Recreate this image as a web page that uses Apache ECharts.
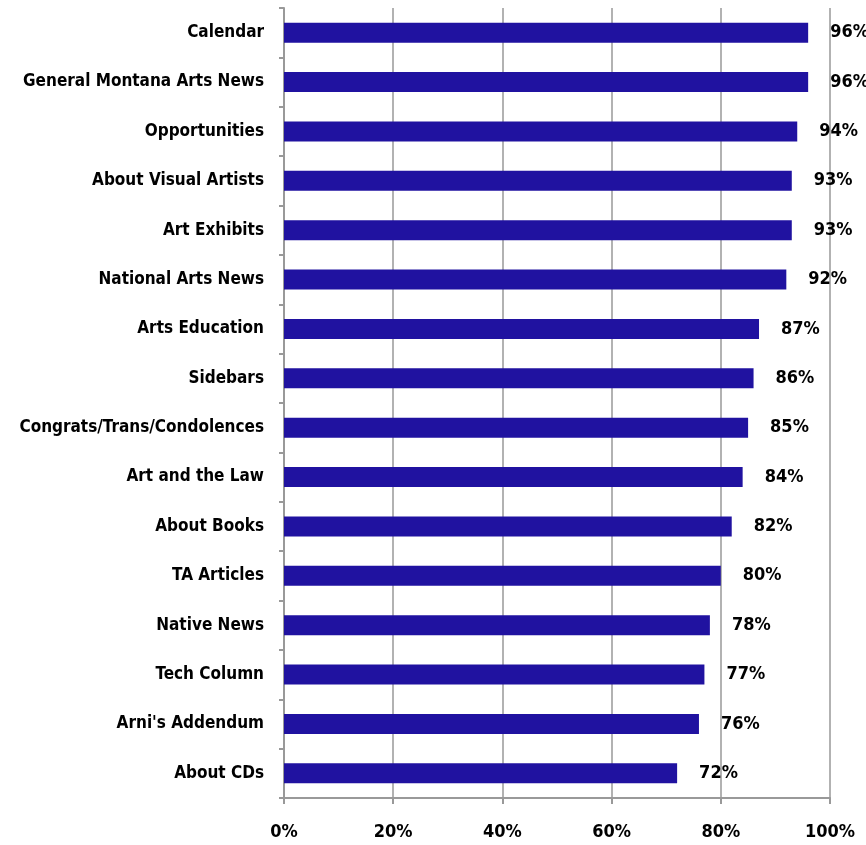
<!DOCTYPE html>
<html>
<head>
<meta charset="utf-8">
<script src="https://cdn.jsdelivr.net/npm/echarts@6/dist/echarts.min.js"></script>
<style>
  html, body { margin: 0; padding: 0; background: #fff; }
  #main { width: 866px; height: 845px; }
</style>
</head>
<body>
<div id="main"></div>
<script>
// categories top to bottom
var categories = [
  "Calendar", "General Montana Arts News", "Opportunities", "About Visual Artists",
  "Art Exhibits", "National Arts News", "Arts Education", "Sidebars",
  "Congrats/Trans/Condolences", "Art and the Law", "About Books", "TA Articles",
  "Native News", "Tech Column", "Arni's Addendum", "About CDs"
];
var values = [96, 96, 94, 93, 93, 92, 87, 86, 85, 84, 82, 80, 78, 77, 76, 72];
var xTicks = [0, 20, 40, 60, 80, 100];

var font = '"DejaVu Sans Condensed", "Liberation Sans", sans-serif';

var myChart = echarts.init(document.getElementById("main"));

var option = {
  backgroundColor: "#fff",
  animation: false,
  grid: { left: 284, right: 36, top: 8, bottom: 47, containLabel: false, outerBoundsMode: "none" },
  xAxis: {
    type: "value",
    min: xTicks[0],
    max: xTicks[xTicks.length - 1],
    interval: xTicks[1] - xTicks[0],
    axisLine: { show: true, lineStyle: { color: "#999", width: 2 } },
    axisTick: { show: true, length: 6, lineStyle: { color: "#999", width: 2 } },
    splitLine: { show: true, lineStyle: { color: "#999", width: 1.5 } },
    axisLabel: {
      margin: 25,
      formatter: "{value}%",
      color: "#000",
      fontFamily: font,
      fontWeight: "bold",
      fontSize: 18
    }
  },
  yAxis: {
    type: "category",
    inverse: true,
    data: categories,
    axisLine: { show: true, lineStyle: { color: "#999", width: 2 } },
    axisTick: { show: true, length: 5, lineStyle: { color: "#999", width: 2 } },
    axisLabel: {
      margin: 20,
      color: "#000",
      fontFamily: font,
      fontWeight: "bold",
      fontSize: 17
    }
  },
  series: [
    {
      type: "bar",
      data: values,
      barWidth: 20,
      itemStyle: { color: "#2012a0" },
      label: {
        show: true,
        position: "right",
        distance: 22,
        formatter: "{c}%",
        color: "#000",
        fontFamily: font,
        fontWeight: "bold",
        fontSize: 18
      }
    }
  ]
};

myChart.setOption(option);
</script>
</body>
</html>
